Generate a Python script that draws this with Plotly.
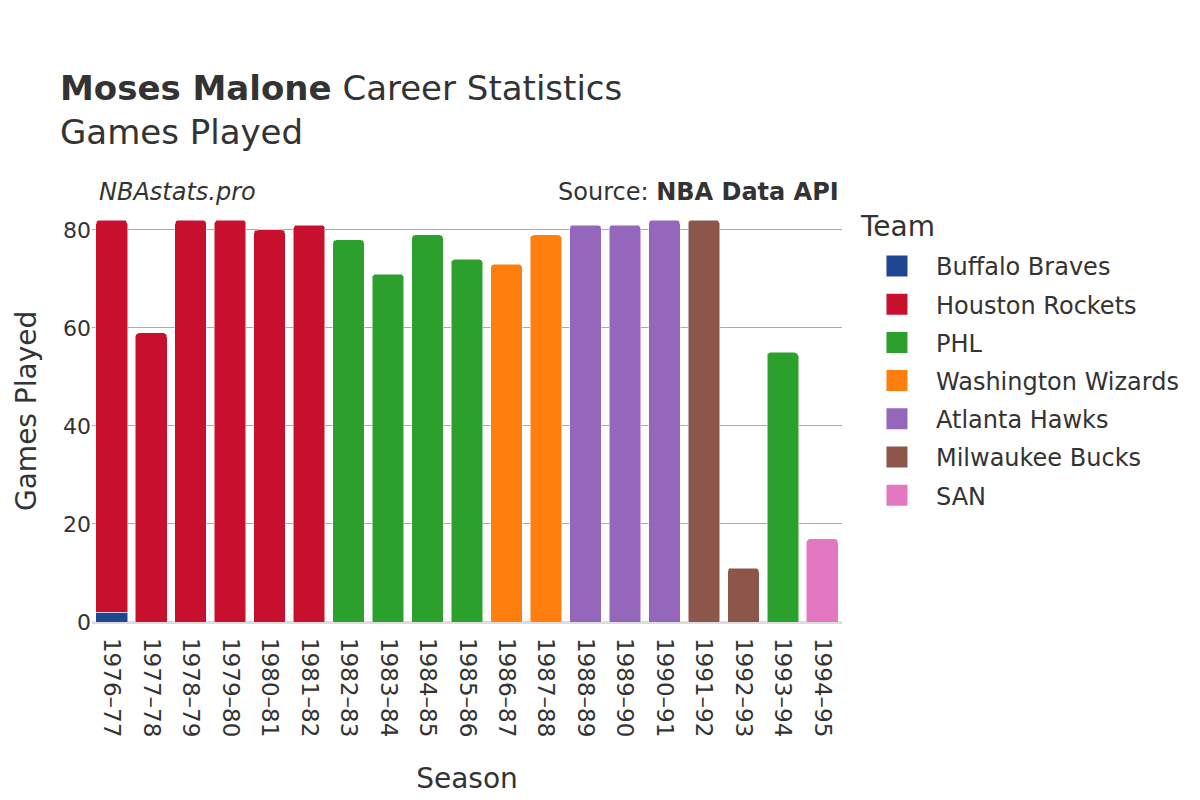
import plotly.graph_objects as go

seasons = ["1976–77", "1977–78", "1978–79", "1979–80", "1980–81", "1981–82", "1982–83",
           "1983–84", "1984–85", "1985–86", "1986–87", "1987–88", "1988–89", "1989–90",
           "1990–91", "1991–92", "1992–93", "1993–94", "1994–95"]

teams = ["Buffalo Braves", "Houston Rockets", "PHL", "Washington Wizards",
         "Atlanta Hawks", "Milwaukee Bucks", "SAN"]
colors = ["#1f4690", "#c8102e", "#2ca02c", "#ff7f0e", "#9467bd", "#8c564b", "#e377c2"]

buffalo_games = [2, None, None, None, None, None, None, None, None, None, None, None, None, None, None, None, None, None, None]
houston_games = [80, 59, 82, 82, 80, 81, None, None, None, None, None, None, None, None, None, None, None, None, None]
phl_games = [None, None, None, None, None, None, 78, 71, 79, 74, None, None, None, None, None, None, None, 55, None]
washington_games = [None, None, None, None, None, None, None, None, None, None, 73, 79, None, None, None, None, None, None, None]
atlanta_games = [None, None, None, None, None, None, None, None, None, None, None, None, 81, 81, 82, None, None, None, None]
milwaukee_games = [None, None, None, None, None, None, None, None, None, None, None, None, None, None, None, 82, 11, None, None]
san_games = [None, None, None, None, None, None, None, None, None, None, None, None, None, None, None, None, None, None, 17]

series = [buffalo_games, houston_games, phl_games, washington_games,
          atlanta_games, milwaukee_games, san_games]

fig = go.Figure()
for name, col, vals in zip(teams, colors, series):
    fig.add_trace(go.Bar(x=seasons, y=vals, name=name, marker_color=col,
                         marker_line_color="white", marker_line_width=0.5,
                         legendgroup=name, showlegend=False))
    # legend swatch (larger square than the default bar legend symbol)
    fig.add_trace(go.Scatter(x=[None], y=[None], mode="markers", name=name,
                             legendgroup=name, showlegend=True,
                             marker=dict(symbol="square", size=16, color=col,
                                         line=dict(color=col, width=5))))

font_family = "DejaVu Sans, Open Sans, sans-serif"
fig.update_layout(
    barmode="stack",
    barcornerradius=4,
    bargap=0.2,
    width=1200, height=800,
    paper_bgcolor="white", plot_bgcolor="white",
    font=dict(family=font_family, color="#333333", size=22),
    margin=dict(l=84, r=366, t=192, b=186),
    title=dict(
        text="<b>Moses Malone</b> Career Statistics<br>Games Played",
        x=0.0433, xanchor="left", y=0.885, yanchor="top",
        font=dict(size=34, color="#333333"),
    ),
    legend=dict(
        font=dict(size=24),
        x=1.0213, xanchor="left", y=0.896, yanchor="top",
        itemsizing="trace", itemwidth=68, tracegroupgap=4,
        traceorder="grouped",
    ),
    xaxis=dict(
        title=dict(text="Season", font=dict(size=28), standoff=32),
        tickangle=90, tickfont=dict(size=23),
        showgrid=False, ticks="", ticklabelstandoff=15,
    ),
    yaxis=dict(
        tickfont=dict(size=22), tickvals=[0, 20, 40, 60, 80],
        showgrid=True, gridcolor="#aaaaaa", gridwidth=1,
        zeroline=True, zerolinecolor="#dddddd", zerolinewidth=3,
        ticks="", automargin=False,
        range=[0, 86.1],
    ),
    annotations=[
        dict(text="<i>NBAstats.pro</i>", xref="paper", yref="paper", x=0.0067, y=1.0,
             xanchor="left", yanchor="middle", yshift=8, showarrow=False,
             font=dict(size=24, color="#333333")),
        dict(text="Source: <b>NBA Data API</b>", xref="paper", yref="paper", x=0.9987, y=1.0,
             xanchor="right", yanchor="middle", yshift=8, showarrow=False,
             font=dict(size=24, color="#333333")),
        dict(text="Team", xref="paper", yref="paper", x=1.0213, y=0.938,
             xanchor="left", yanchor="middle", showarrow=False,
             font=dict(size=28, color="#333333")),
        dict(text="Games Played", xref="paper", yref="paper", x=-0.088, y=0.5,
             xanchor="center", yanchor="middle", textangle=-90, showarrow=False,
             borderpad=0, font=dict(size=28, color="#333333")),
    ],
)

fig.write_html("out.html")
